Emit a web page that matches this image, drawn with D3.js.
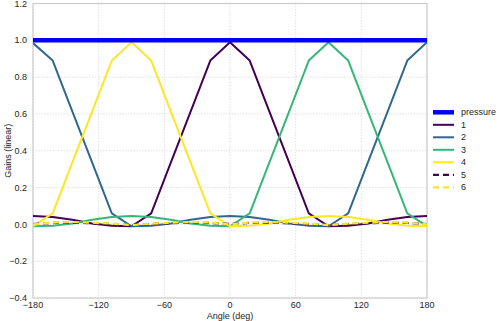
<!DOCTYPE html>
<head>
  <meta charset="utf-8">
  <script src="https://d3js.org/d3.v7.min.js"></script>
  <style>
    body { margin: 0; background: #fff; }
    text { font-family: "Liberation Sans", Arial, sans-serif; fill: #262626; }
    .grid line { stroke: #d0d0d0; stroke-dasharray: 1.2,1.6; stroke-width: 0.8; }
  </style>
</head>
<body>
<script>

var angles = [-180,-162,-144,-126,-108,-90,-72,-54,-36,-18,0,18,36,54,72,90,108,126,144,162,180];

var pressure = [1,1,1,1,1,1,1,1,1,1,1,1,1,1,1,1,1,1,1,1,1];
var ch1 = [0.045,0.04,0.025,0.005,-0.008,-0.01,0.06,0.337,0.613,0.89,0.99,0.89,0.613,0.337,0.06,-0.01,-0.008,0.005,0.025,0.04,0.045];
var ch2 = [0.985,0.89,0.613,0.337,0.06,-0.01,-0.008,0.005,0.025,0.04,0.045,0.04,0.025,0.005,-0.008,-0.01,0.06,0.337,0.613,0.89,0.99];
var ch3 = [-0.01,-0.008,0.005,0.025,0.04,0.045,0.04,0.025,0.005,-0.008,-0.01,0.06,0.337,0.613,0.89,0.99,0.89,0.613,0.337,0.06,-0.01];
var ch4 = [-0.01,0.06,0.337,0.613,0.89,0.99,0.89,0.613,0.337,0.06,-0.01,-0.008,0.005,0.025,0.04,0.045,0.04,0.025,0.005,-0.008,-0.01];
var ch5 = [0.002,0.008,0.01,0.006,0.002,-0.004,0.002,0.006,0.01,0.008,0.002,0.008,0.01,0.006,0.002,-0.004,0.002,0.006,0.01,0.008,0.002];
var ch6 = [0.0,0.01,0.013,0.009,0.004,-0.004,0.004,0.009,0.013,0.01,0.0,0.01,0.013,0.009,0.004,-0.004,0.004,0.009,0.013,0.01,0.0];

var names = ["pressure","1","2","3","4","5","6"];
var colors = ["#0000ff","#440154","#31688e","#35b779","#fde725","#440154","#fde725"];
var widths = [4.5,2,2,2,2,2.2,2.2];
var dashes = [null,null,null,null,null,"6,4","6,4"];
var series = [pressure,ch1,ch2,ch3,ch4,ch5,ch6];

var xTicks = [-180,-120,-60,0,60,120,180];
var yTicks = [-0.4,-0.2,0.0,0.2,0.4,0.6,0.8,1.0,1.2];

var W = 498, H = 321;
var margin = {top: 3.5, right: 71, bottom: 23, left: 33};
var width = W - margin.left - margin.right,
    height = H - margin.top - margin.bottom;

var x = d3.scaleLinear().domain([-180,180]).range([0,width]);
var y = d3.scaleLinear().domain([-0.4,1.2]).range([height,0]);

var svg = d3.select("body").append("svg")
    .attr("width", W).attr("height", H)
  .append("g")
    .attr("transform", "translate(" + margin.left + "," + margin.top + ")");

// grid
var grid = svg.append("g").attr("class","grid");
grid.selectAll(".gx").data(xTicks).enter().append("line")
    .attr("x1", function(d){ return x(d); }).attr("x2", function(d){ return x(d); })
    .attr("y1", 0).attr("y2", height);
grid.selectAll(".gy").data(yTicks).enter().append("line")
    .attr("y1", function(d){ return y(d); }).attr("y2", function(d){ return y(d); })
    .attr("x1", 0).attr("x2", width);

// frame
svg.append("rect")
    .attr("width", width).attr("height", height)
    .attr("fill","none").attr("stroke","#cccccc").attr("stroke-width",1.2);

// tick labels
svg.selectAll(".xt").data(xTicks).enter().append("text")
    .attr("x", function(d){ return x(d); })
    .attr("y", height + 10)
    .attr("text-anchor","middle")
    .style("font-size","9px")
    .text(function(d){ return d < 0 ? "\u2212" + Math.abs(d) : d; });

svg.selectAll(".yt").data(yTicks).enter().append("text")
    .attr("x", -6)
    .attr("y", function(d){ return y(d); })
    .attr("dy","0.35em")
    .attr("text-anchor","end")
    .style("font-size","9px")
    .text(function(d){ var s = Math.abs(d).toFixed(1); return d < 0 ? "\u2212" + s : s; });

svg.append("text")
    .attr("x", width/2).attr("y", height + 21)
    .attr("text-anchor","middle")
    .style("font-size","9px")
    .text("Angle (deg)");

svg.append("text")
    .attr("transform","translate(" + (-22.5) + "," + (height/2) + ") rotate(-90)")
    .attr("text-anchor","middle")
    .style("font-size","9px")
    .text("Gains (linear)");

// lines
var line = d3.line()
    .x(function(d,i){ return x(angles[i]); })
    .y(function(d){ return y(d); });

var order = [1,2,3,4,5,6,0];
svg.append("defs").append("clipPath").attr("id","clip")
  .append("rect").attr("width", width).attr("height", height);

order.forEach(function(k){
  svg.append("path")
      .datum(series[k])
      .attr("clip-path","url(#clip)")
      .attr("fill","none")
      .attr("stroke", colors[k])
      .attr("stroke-width", widths[k])
      .attr("stroke-dasharray", dashes[k])
      .attr("stroke-linejoin","round")
      .attr("d", line);
});

// legend
var legend = svg.selectAll(".legend").data(names).enter().append("g")
    .attr("transform", function(d,i){ return "translate(" + (width + 6) + "," + (108.8 + i*12.5) + ")"; });

legend.append("line")
    .attr("x1",0).attr("x2",21)
    .attr("stroke", function(d,i){ return colors[i]; })
    .attr("stroke-width", function(d,i){ return widths[i]; })
    .attr("stroke-dasharray", function(d,i){ return dashes[i]; });

legend.append("text")
    .attr("x", 28).attr("dy","0.35em")
    .style("font-size","9px")
    .text(function(d){ return d; });

</script>
</body>
